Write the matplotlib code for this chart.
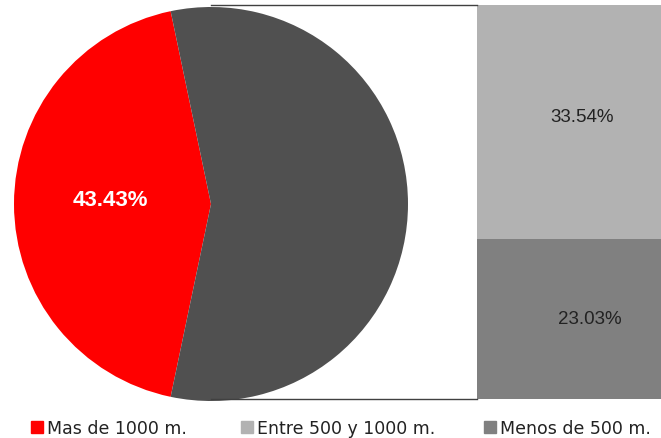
import matplotlib.pyplot as plt
from matplotlib.patches import Patch
from matplotlib.legend import Legend

# altitude groups
pie_labels = ['Mas de 1000 m.', 'Resto']
pie_values = [43.43, 56.57]
bar_labels = ['Menos de 500 m.', 'Entre 500 y 1000 m.']
bar_values = [23.03, 33.54]
legend_names = ['Mas de 1000 m.', 'Entre 500 y 1000 m.', 'Menos de 500 m.']

red = '#FF0000'
dark = '#505050'
bar_colors = ['#808080', '#B2B2B2']

W, H = 661, 439
fig = plt.figure(figsize=(W / 100, H / 100), dpi=100)
ax = fig.add_axes([0, 0, 1, 1])

# pie, red slice centred on the left
cx, cy, r = 211, 234, 197
start = 180 - pie_values[0] / 100 * 360 / 2
ax.pie(pie_values, colors=[red, dark], startangle=start, counterclock=True,
       center=(cx, cy), radius=r, frame=True,
       wedgeprops=dict(linewidth=0))
ax.set_xlim(0, W)
ax.set_ylim(0, H)
ax.set_aspect('equal')
ax.axis('off')
ax.text(110, H - 200, '%.2f%%' % pie_values[0], color='white', fontsize=16,
        fontweight='bold', ha='center', va='center', family='Liberation Sans')

# stacked bar on the right
bx, bw, btop, bbot = 477, 190, 433, 39
scale = (btop - bbot) / sum(bar_values)
bottom = bbot
for v, c in zip(bar_values, bar_colors):
    ax.bar(bx, v * scale, width=bw, bottom=bottom, color=c, align='edge', linewidth=0)
    bottom += v * scale
ax.text(590, H - 320, '%.2f%%' % bar_values[0], fontsize=13.5, color='#222222',
        ha='center', va='center', family='Liberation Sans')
ax.text(582, H - 118, '%.2f%%' % bar_values[1], fontsize=13.5, color='#222222',
        ha='center', va='center', family='Liberation Sans')

# connector lines
ax.plot([cx, bx], [btop, btop], color='#404040', lw=1)
ax.plot([cx, bx], [bbot, bbot], color='#404040', lw=1)

# one legend entry per group, placed along the bottom
handle_colors = [red, bar_colors[1], bar_colors[0]]
legend_x = [31, 241, 484]
for name, c, x in zip(legend_names, handle_colors, legend_x):
    leg = Legend(ax, [Patch(color=c)], [name], loc='center left',
                 bbox_to_anchor=(x / W, (H - 429) / H), frameon=False,
                 handlelength=0.7, handleheight=0.7, handletextpad=0.25,
                 borderpad=0, borderaxespad=0,
                 prop={'family': 'DejaVu Sans', 'size': 12.5})
    for t in leg.get_texts():
        t.set_color('#222222')
    ax.add_artist(leg)

fig.savefig('out.png', dpi=100)
